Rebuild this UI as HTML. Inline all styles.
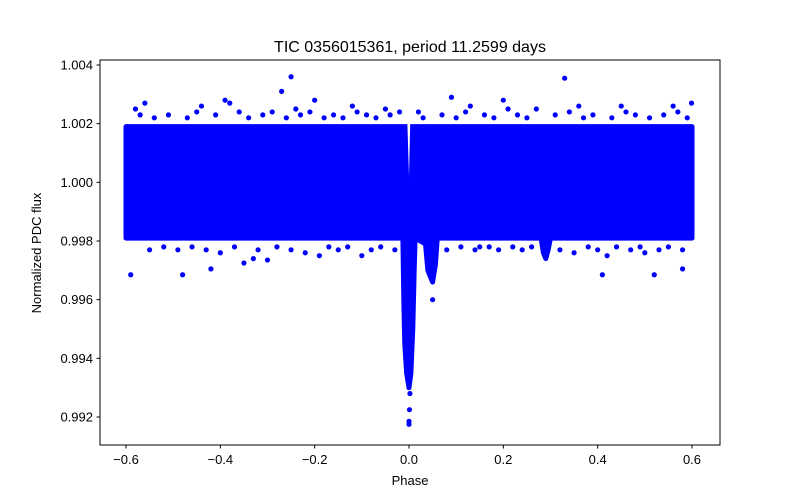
<!DOCTYPE html>
<html><head><meta charset="utf-8"><style>
body{margin:0;background:#fff}
svg{display:block;font-family:"Liberation Sans","DejaVu Sans",sans-serif}
</style></head><body>
<svg id="chart" width="800" height="500">
<rect width="800" height="500" fill="#fff"/>
<g id="marks"></g>
<rect x="100" y="60" width="620" height="385" fill="none" stroke="#000" stroke-width="1"/>
<g id="axes"></g>
<text x="410" y="52" text-anchor="middle" font-size="16">TIC 0356015361, period 11.2599 days</text>
<text x="410" y="485" text-anchor="middle" font-size="13">Phase</text>
<text x="0" y="0" transform="translate(41,253) rotate(-90)" text-anchor="middle" font-size="13">Normalized PDC flux</text>
</svg>
<script>
const xTicks=[-0.6,-0.4,-0.2,0.0,0.2,0.4,0.6];
const yTicks=[0.992,0.994,0.996,0.998,1.000,1.002,1.004];
const bandPhase=[-0.6,-0.013,-0.011,-0.009,-0.005,0,0.004,0.008,0.011,0.013,0.035,0.04,0.05,0.056,0.06,0.28,0.285,0.29,0.295,0.30,0.6];
const bandUpper=[1.0019,1.0019,1.0019,1.0019,1.0019,1.0019,1.0019,1.0019,1.0019,1.0019,1.0019,1.0019,1.0019,1.0019,1.0019,1.0019,1.0019,1.0019,1.0019,1.0019,1.0019];
const bandLower=[0.9981,0.9981,0.9960,0.9945,0.9935,0.9930,0.9935,0.9950,0.9970,0.9981,0.9979,0.9970,0.9966,0.9972,0.9981,0.9981,0.9976,0.9974,0.9977,0.9981,0.9981];
const outPhase=[-0.59,-0.58,-0.56,-0.48,-0.44,-0.42,-0.39,-0.35,-0.3,-0.27,-0.25,-0.24,-0.2,-0.12,-0.05,0.0,0.0,0.002,0.05,0.09,0.2,0.33,0.36,0.41,0.45,0.52,0.56,0.58,0.599,-0.4,-0.33,-0.19,-0.1,0.02,0.13,0.27,0.42,0.5,0.35,-0.22,0.15,0.0,0.001,-0.005,
-0.57,-0.54,-0.51,-0.47,-0.45,-0.41,-0.38,-0.36,-0.34,-0.31,-0.29,-0.26,-0.23,-0.21,-0.18,-0.16,-0.14,-0.11,-0.09,-0.07,-0.04,-0.02,0.03,0.07,0.1,0.12,0.16,0.18,0.21,0.23,0.25,0.31,0.34,0.37,0.39,0.43,0.46,0.48,0.51,0.54,0.57,0.59,
-0.55,-0.52,-0.49,-0.46,-0.43,-0.37,-0.32,-0.28,-0.25,-0.17,-0.15,-0.13,-0.08,-0.06,-0.03,0.08,0.11,0.14,0.17,0.19,0.22,0.24,0.26,0.32,0.38,0.40,0.44,0.47,0.49,0.53,0.55,0.58];
const outFlux=[0.99685,1.0025,1.0027,0.99685,1.0026,0.99705,1.0028,0.99725,0.99735,1.0031,1.0036,1.0025,1.0028,1.0026,1.0025,0.99185,0.99175,0.9928,0.9960,1.0029,1.0028,1.00355,1.0026,0.99685,1.0026,0.99685,1.0026,0.99705,1.0027,0.9976,0.9974,0.9975,0.9975,1.0024,1.0026,1.0025,0.9975,0.9976,0.9976,0.9976,0.9978,0.99315,0.99225,0.9973,
1.0023,1.0022,1.0023,1.0022,1.0024,1.0023,1.0027,1.0024,1.0022,1.0023,1.0024,1.0022,1.0023,1.0024,1.0022,1.0023,1.0022,1.0024,1.0023,1.0022,1.0023,1.0024,1.0022,1.0023,1.0022,1.0024,1.0023,1.0022,1.0025,1.0023,1.0022,1.0023,1.0024,1.0022,1.0023,1.0022,1.0024,1.0023,1.0022,1.0023,1.0024,1.0022,
0.9977,0.9978,0.9977,0.9978,0.9977,0.9978,0.9977,0.9978,0.9977,0.9978,0.9977,0.9978,0.9977,0.9978,0.9977,0.9977,0.9978,0.9977,0.9978,0.9977,0.9978,0.9977,0.9978,0.9977,0.9978,0.9977,0.9978,0.9977,0.9978,0.9977,0.9978,0.9977];
const NS="http://www.w3.org/2000/svg";
const X=p=>409+p*(566/1.2);
const Y=f=>417-(f-0.992)*(352/0.012);
const marks=document.getElementById('marks');
const axes=document.getElementById('axes');
function mk(tag,attrs,parent){const e=document.createElementNS(NS,tag);for(const k in attrs)e.setAttribute(k,attrs[k]);parent.appendChild(e);return e;}
let pts=bandPhase.map((p,i)=>X(p)+','+Y(bandUpper[i]));
for(let i=bandPhase.length-1;i>=0;i--)pts.push(X(bandPhase[i])+','+Y(bandLower[i]));
const band=mk('polygon',{points:pts.join(' '),fill:'#0000ff',stroke:'#0000ff','stroke-width':5,'stroke-linejoin':'round'},marks);


outPhase.forEach((p,i)=>{
  const c=mk('circle',{cx:X(p),cy:Y(outFlux[i]),r:2.6,fill:'#0000ff'},marks);
  
  
});
const gap=mk('polygon',{points:[X(-0.004)+','+Y(1.0023),X(0.003)+','+Y(1.0023),X(0.0)+','+Y(1.0002)].join(' '),fill:'#fff'},marks);


xTicks.forEach(t=>{
  const x=X(t);
  const l=mk('line',{x1:x,x2:x,y1:445,y2:448.5,stroke:'#000'},axes);
  
  
  const s=mk('text',{x:x,y:464,'text-anchor':'middle','font-size':13},axes);
  s.textContent=t.toFixed(1).replace('-','−');
  
  
});
yTicks.forEach(t=>{
  const y=Y(t);
  const l=mk('line',{x1:96.5,x2:100,y1:y,y2:y,stroke:'#000'},axes);
  
  
  const s=mk('text',{x:93,y:y+4.5,'text-anchor':'end','font-size':13},axes);
  s.textContent=t.toFixed(3);
  
  
});
</script>
</body></html>
